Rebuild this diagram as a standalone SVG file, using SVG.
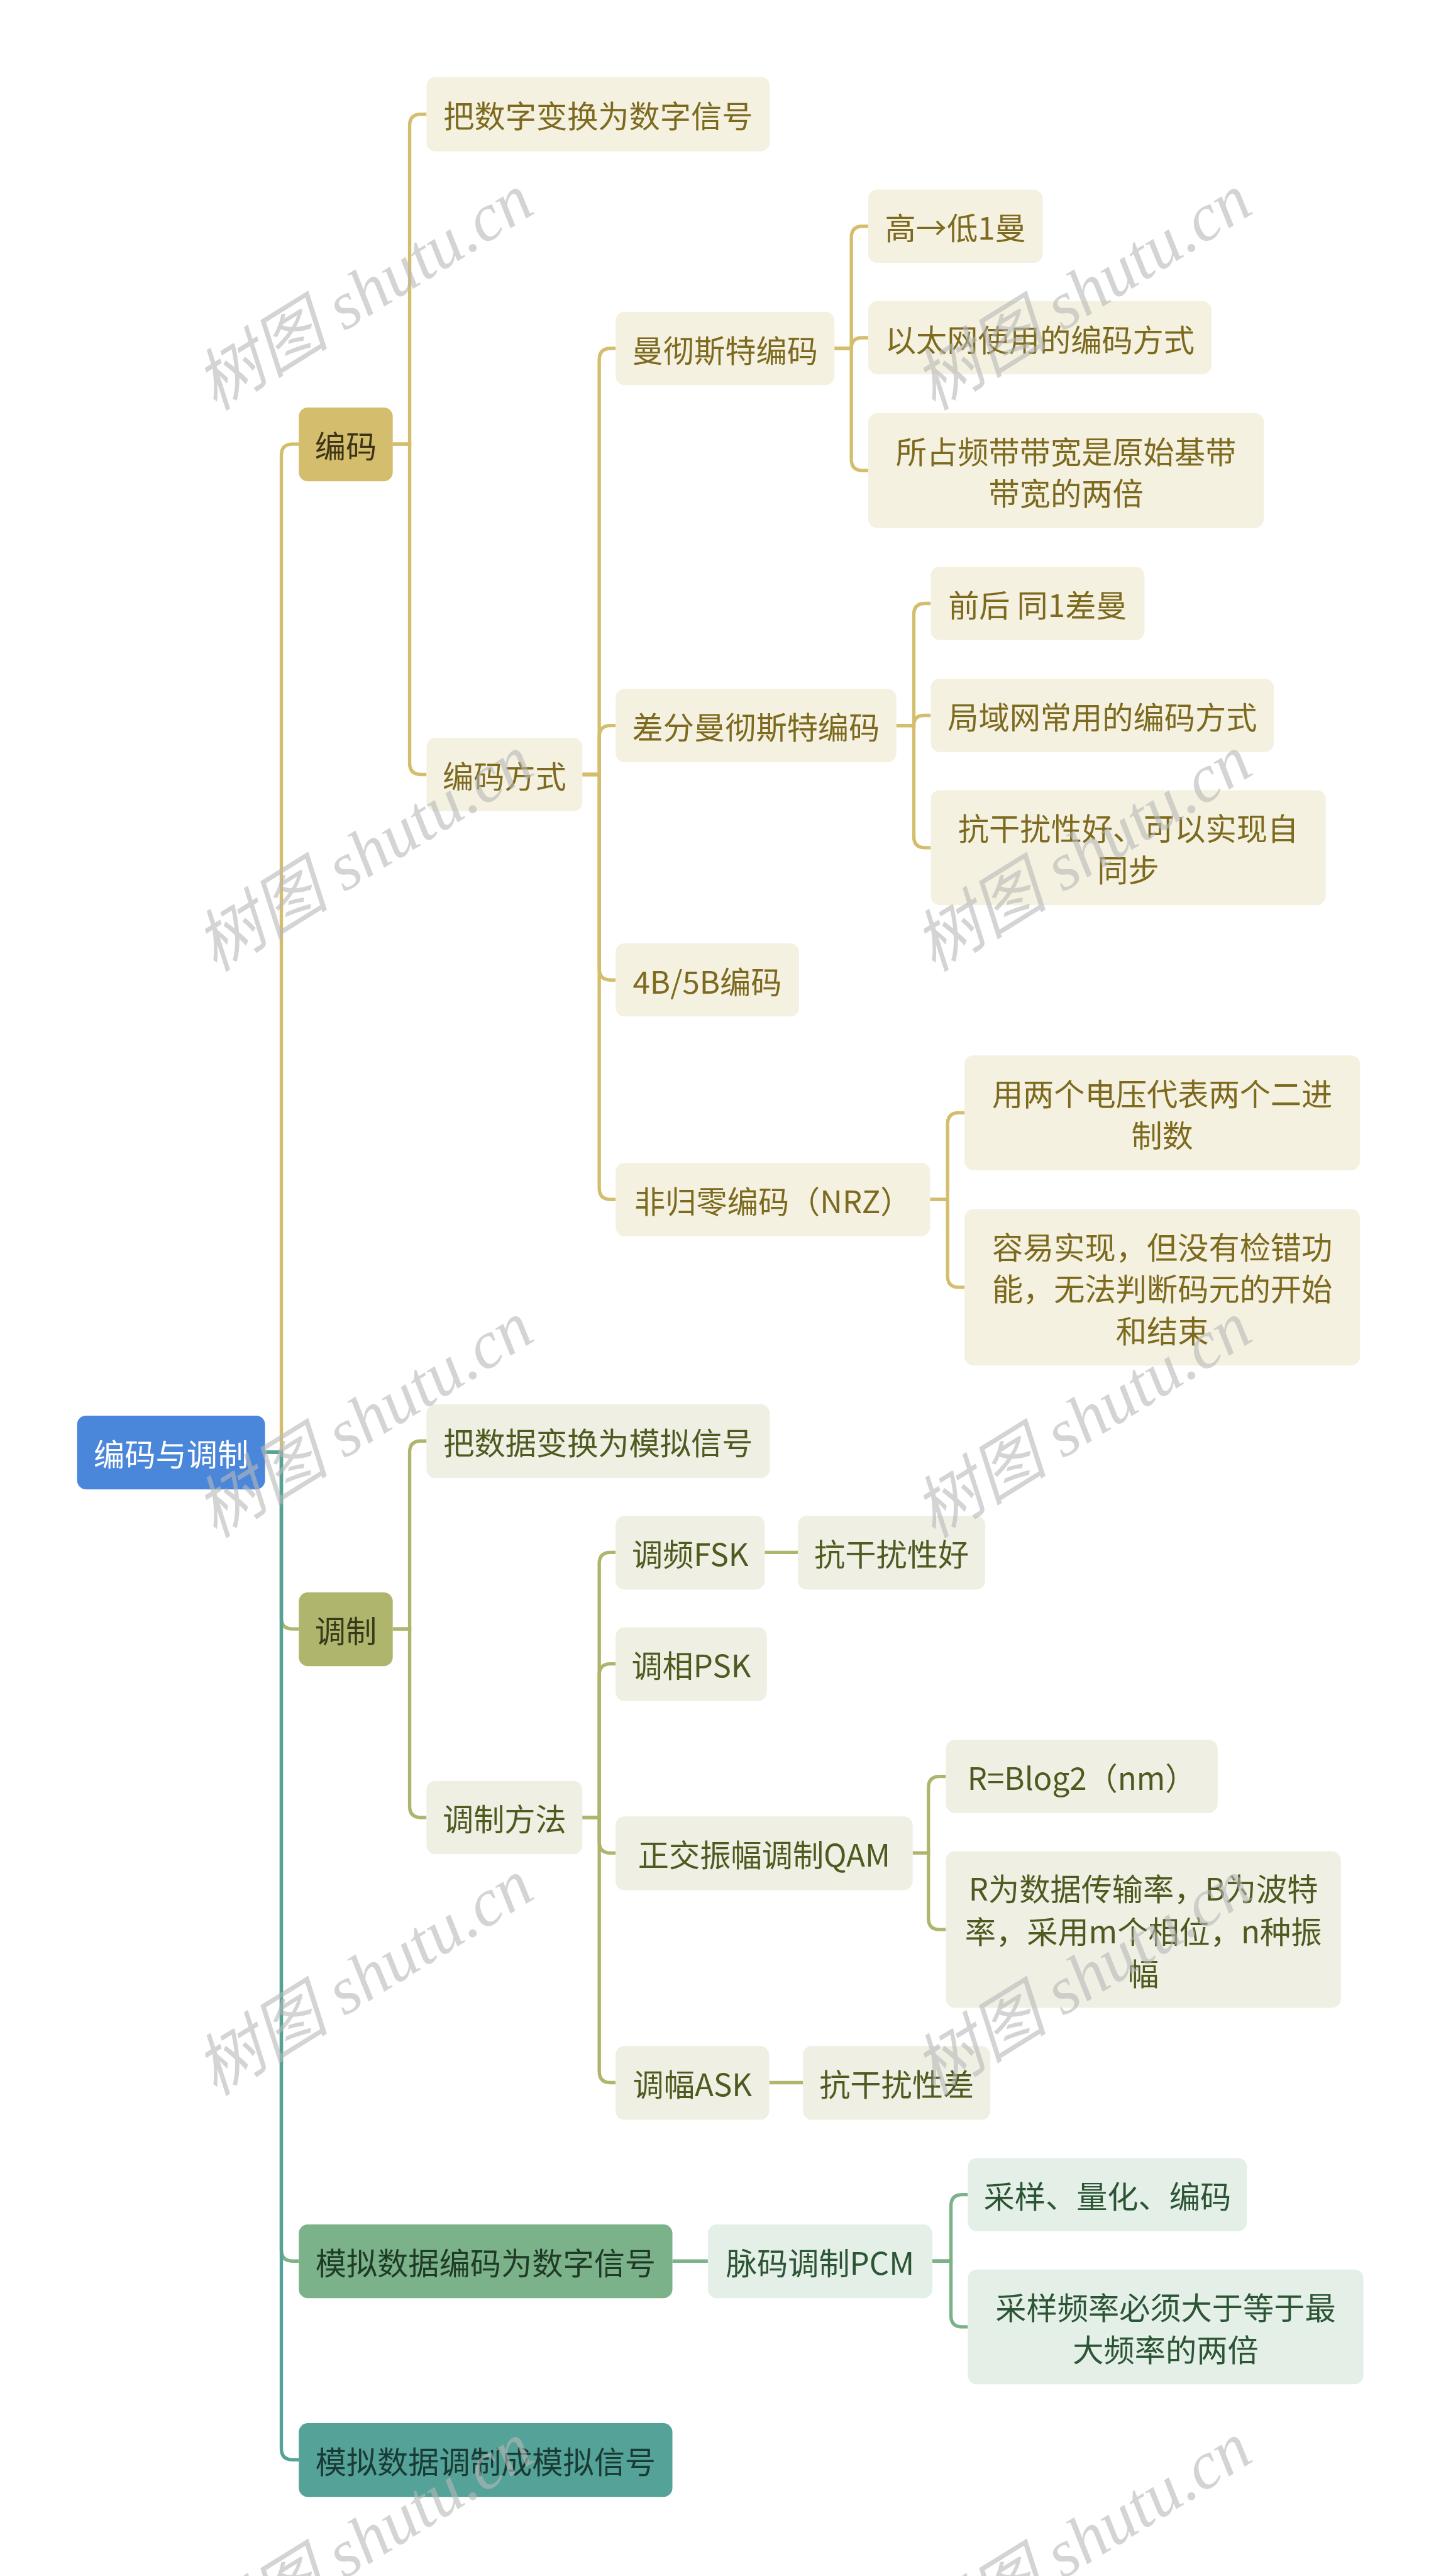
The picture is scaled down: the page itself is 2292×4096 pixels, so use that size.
<svg xmlns="http://www.w3.org/2000/svg" width="2292" height="4096" viewBox="0 0 2292 4096">
<style>
text{font-family:"Noto Sans CJK SC","Noto Sans",sans-serif;font-size:55px;text-anchor:middle;dominant-baseline:central}
.c{fill:none;stroke-width:6}
.cg{stroke:#d4be6e}.co{stroke:#b0b56e}.cn{stroke:#7bb289}.ct{stroke:#54a298}
.bg{fill:#f4f1e0}.tg{fill:#7d6a1f}
.bo{fill:#efefe3}.to{fill:#4e5a1f}
.bn{fill:#e4efe7}.tn{fill:#2c5535}
.wm{font-family:"Liberation Serif","Noto Sans CJK SC",serif;font-style:italic;font-size:120px;fill:#b8b8b8;opacity:0.6}
</style>
<rect x="0" y="0" width="2292" height="4096" fill="#ffffff"/>
<g transform="scale(0.895)">
<g id="connectors">
<path class="c cg" d="M471,2580 H500 V809 Q500,789 520,789 H531"/>
<path class="c co" d="M471,2580 H500 V2874 Q500,2894 520,2894 H531"/>
<path class="c cn" d="M471,2580 H500 V3997 Q500,4017 520,4017 H531"/>
<path class="c ct" d="M471,2580 H500 V4350 Q500,4370 520,4370 H531"/>
<path class="c cg" d="M698,789 H728 V223 Q728,203 748,203 H758"/>
<path class="c cg" d="M698,789 H728 V1356 Q728,1376 748,1376 H758"/>
<path class="c cg" d="M1035,1376 H1065 V639 Q1065,619 1085,619 H1094"/>
<path class="c cg" d="M1035,1376 H1065 V1309 Q1065,1289 1085,1289 H1094"/>
<path class="c cg" d="M1035,1376 H1065 V1721 Q1065,1741 1085,1741 H1094"/>
<path class="c cg" d="M1035,1376 H1065 V2111 Q1065,2131 1085,2131 H1094"/>
<path class="c cg" d="M1483,619 H1513 V422 Q1513,402 1533,402 H1543"/>
<path class="c cg" d="M1483,619 H1513 Q1513,600 1532,600 H1543"/>
<path class="c cg" d="M1483,619 H1513 V816 Q1513,836 1533,836 H1543"/>
<path class="c cg" d="M1593,1289 H1624 V1092 Q1624,1072 1644,1072 H1654"/>
<path class="c cg" d="M1593,1289 H1624 Q1624,1271 1642,1271 H1654"/>
<path class="c cg" d="M1593,1289 H1624 V1486 Q1624,1506 1644,1506 H1654"/>
<path class="c cg" d="M1653,2131 H1684 V1997 Q1684,1977 1704,1977 H1714"/>
<path class="c cg" d="M1653,2131 H1684 V2267 Q1684,2287 1704,2287 H1714"/>
<path class="c co" d="M698,2894 H728 V2580 Q728,2560 748,2560 H758"/>
<path class="c co" d="M698,2894 H728 V3209 Q728,3229 748,3229 H758"/>
<path class="c co" d="M1035,3229 H1065 V2778 Q1065,2758 1085,2758 H1094"/>
<path class="c co" d="M1035,3229 H1065 V2976 Q1065,2956 1085,2956 H1094"/>
<path class="c co" d="M1035,3229 H1065 V3272 Q1065,3292 1085,3292 H1094"/>
<path class="c co" d="M1035,3229 H1065 V3680 Q1065,3700 1085,3700 H1094"/>
<path class="c co" d="M1359,2758 H1418"/>
<path class="c co" d="M1367,3700 H1427"/>
<path class="c co" d="M1622,3292 H1650 V3176 Q1650,3156 1670,3156 H1681"/>
<path class="c co" d="M1622,3292 H1650 V3408 Q1650,3428 1670,3428 H1681"/>
<path class="c cn" d="M1195,4017 H1258"/>
<path class="c cn" d="M1657,4017 H1690 V3919 Q1690,3899 1710,3899 H1720"/>
<path class="c cn" d="M1657,4017 H1690 V4114 Q1690,4134 1710,4134 H1720"/>
</g>
<g id="root"><rect x="137" y="2515" width="334" height="131" rx="16" fill="#4a86d9"/><text x="304" y="2580" fill="#ffffff">编码与调制</text></g>
<g id="n-bianma"><rect x="531" y="724" width="167" height="131" rx="16" fill="#d4be6e"/><text x="614.5" y="789" fill="#3d3418">编码</text></g>
<g id="n-tiaozhi"><rect x="531" y="2829" width="167" height="131" rx="16" fill="#b0b56e"/><text x="614.5" y="2894" fill="#353a1a">调制</text></g>
<g id="n-moni1"><rect x="531" y="3952" width="664" height="131" rx="16" fill="#7bb289"/><text x="863" y="4017" fill="#1f3a26">模拟数据编码为数字信号</text></g>
<g id="n-moni2"><rect x="531" y="4305" width="664" height="131" rx="16" fill="#54a298"/><text x="863" y="4370" fill="#1a3a34">模拟数据调制成模拟信号</text></g>

<g id="n-g1"><rect class="bg" x="758" y="137" width="610" height="132" rx="16"/><text class="tg" x="1063" y="203">把数字变换为数字信号</text></g>
<g id="n-g2"><rect class="bg" x="758" y="1311" width="277" height="130" rx="16"/><text class="tg" x="896.5" y="1376">编码方式</text></g>
<g id="n-g3"><rect class="bg" x="1094" y="554" width="389" height="130" rx="16"/><text class="tg" x="1288.5" y="619">曼彻斯特编码</text></g>
<g id="n-g4"><rect class="bg" x="1094" y="1224" width="499" height="130" rx="16"/><text class="tg" x="1343.5" y="1289">差分曼彻斯特编码</text></g>
<g id="n-g5"><rect class="bg" x="1094" y="1676" width="326" height="130" rx="16"/><text class="tg" x="1257" y="1741">4B/5B编码</text></g>
<g id="n-g6"><rect class="bg" x="1094" y="2066" width="559" height="130" rx="16"/><text class="tg" x="1373.5" y="2131">非归零编码（NRZ）</text></g>
<g id="n-g7"><rect class="bg" x="1543" y="337" width="310" height="130" rx="16"/><text class="tg" x="1698" y="402">高→低1曼</text></g>
<g id="n-g8"><rect class="bg" x="1543" y="535" width="610" height="130" rx="16"/><text class="tg" x="1848" y="600">以太网使用的编码方式</text></g>
<g id="n-g9"><rect class="bg" x="1543" y="734" width="703" height="204" rx="16"/><text class="tg" x="1894.5" y="799">所占频带带宽是原始基带</text><text class="tg" x="1894.5" y="873">带宽的两倍</text></g>
<g id="n-g10"><rect class="bg" x="1654" y="1007" width="380" height="130" rx="16"/><text class="tg" x="1844" y="1072">前后 同1差曼</text></g>
<g id="n-g11"><rect class="bg" x="1654" y="1206" width="610" height="130" rx="16"/><text class="tg" x="1959" y="1271">局域网常用的编码方式</text></g>
<g id="n-g12"><rect class="bg" x="1654" y="1404" width="702" height="204" rx="16"/><text class="tg" x="2005" y="1469">抗干扰性好、可以实现自</text><text class="tg" x="2005" y="1543">同步</text></g>
<g id="n-g13"><rect class="bg" x="1714" y="1875" width="703" height="204" rx="16"/><text class="tg" x="2065.5" y="1940">用两个电压代表两个二进</text><text class="tg" x="2065.5" y="2014">制数</text></g>
<g id="n-g14"><rect class="bg" x="1714" y="2148" width="703" height="278" rx="16"/><text class="tg" x="2065.5" y="2213">容易实现，但没有检错功</text><text class="tg" x="2065.5" y="2287">能，无法判断码元的开始</text><text class="tg" x="2065.5" y="2361">和结束</text></g>

<g id="n-o1"><rect class="bo" x="758" y="2495" width="610" height="131" rx="16"/><text class="to" x="1063" y="2560">把数据变换为模拟信号</text></g>
<g id="n-o2"><rect class="bo" x="758" y="3164" width="277" height="130" rx="16"/><text class="to" x="896.5" y="3229">调制方法</text></g>
<g id="n-o3"><rect class="bo" x="1094" y="2693" width="265" height="131" rx="16"/><text class="to" x="1226.5" y="2758">调频FSK</text></g>
<g id="n-o4"><rect class="bo" x="1418" y="2693" width="333" height="131" rx="16"/><text class="to" x="1584.5" y="2758">抗干扰性好</text></g>
<g id="n-o5"><rect class="bo" x="1094" y="2891" width="269" height="131" rx="16"/><text class="to" x="1228.5" y="2956">调相PSK</text></g>
<g id="n-o6"><rect class="bo" x="1094" y="3227" width="528" height="131" rx="16"/><text class="to" x="1358" y="3292">正交振幅调制QAM</text></g>
<g id="n-o7"><rect class="bo" x="1094" y="3635" width="273" height="131" rx="16"/><text class="to" x="1230.5" y="3700">调幅ASK</text></g>
<g id="n-o8"><rect class="bo" x="1427" y="3635" width="333" height="131" rx="16"/><text class="to" x="1593.5" y="3700">抗干扰性差</text></g>
<g id="n-o9"><rect class="bo" x="1681" y="3091" width="483" height="130" rx="16"/><text class="to" x="1922.5" y="3156">R=Blog2（nm）</text></g>
<g id="n-o10"><rect class="bo" x="1681" y="3289" width="702" height="278" rx="16"/><text class="to" x="2032" y="3353">R为数据传输率，B为波特</text><text class="to" x="2032" y="3428">率，采用m个相位，n种振</text><text class="to" x="2032" y="3503">幅</text></g>

<g id="n-n1"><rect class="bn" x="1258" y="3952" width="399" height="131" rx="16"/><text class="tn" x="1457.5" y="4017">脉码调制PCM</text></g>
<g id="n-n2"><rect class="bn" x="1720" y="3834" width="496" height="130" rx="16"/><text class="tn" x="1968" y="3899">采样、量化、编码</text></g>
<g id="n-n3"><rect class="bn" x="1720" y="4032" width="703" height="204" rx="16"/><text class="tn" x="2071.5" y="4097">采样频率必须大于等于最</text><text class="tn" x="2071.5" y="4171">大频率的两倍</text></g>

<g id="watermarks">
<text class="wm" x="647" y="519" transform="rotate(-31.8 647 519)">树图 shutu.cn</text>
<text class="wm" x="1924" y="519" transform="rotate(-31.8 1924 519)">树图 shutu.cn</text>
<text class="wm" x="647" y="1516" transform="rotate(-31.8 647 1516)">树图 shutu.cn</text>
<text class="wm" x="1924" y="1516" transform="rotate(-31.8 1924 1516)">树图 shutu.cn</text>
<text class="wm" x="647" y="2522" transform="rotate(-31.8 647 2522)">树图 shutu.cn</text>
<text class="wm" x="1924" y="2522" transform="rotate(-31.8 1924 2522)">树图 shutu.cn</text>
<text class="wm" x="647" y="3513" transform="rotate(-31.8 647 3513)">树图 shutu.cn</text>
<text class="wm" x="1924" y="3513" transform="rotate(-31.8 1924 3513)">树图 shutu.cn</text>
<text class="wm" x="647" y="4513" transform="rotate(-31.8 647 4513)">树图 shutu.cn</text>
<text class="wm" x="1924" y="4513" transform="rotate(-31.8 1924 4513)">树图 shutu.cn</text>
</g>
</g>
</svg>
